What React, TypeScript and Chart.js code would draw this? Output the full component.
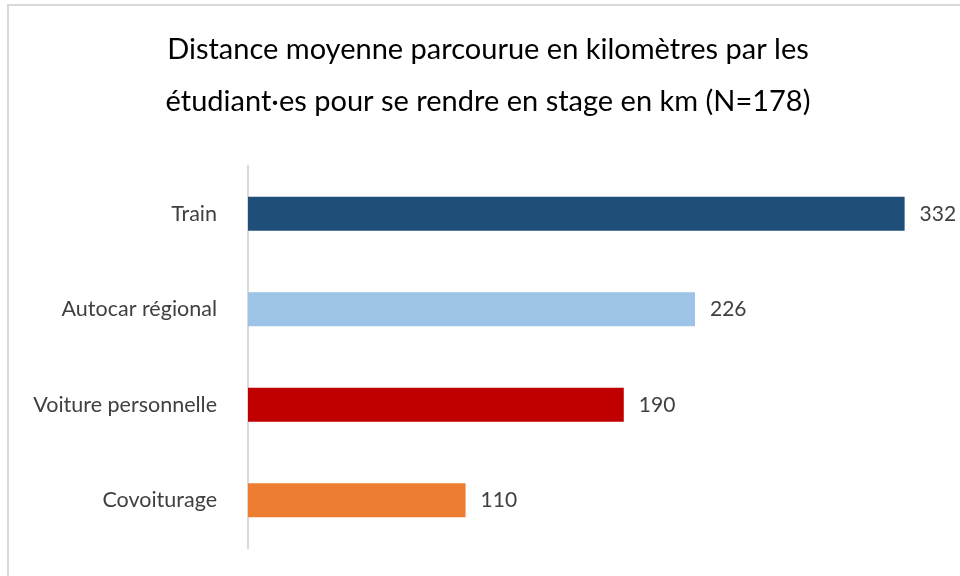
import React, { useEffect, useRef } from "react";
import { Chart, registerables } from "chart.js";

Chart.register(...registerables);

const categories = ["Train", "Autocar régional", "Voiture personnelle", "Covoiturage"];
const values = [332, 226, 190, 110];
const barColors = ["#1F4E79", "#9DC3E6", "#C00000", "#ED7D31"];
const titleLines = [
  "Distance moyenne parcourue en kilomètres par les",
  "étudiant·es pour se rendre en stage en km (N=178)",
];
const xMax = 360;

const FONT = "Lato, 'Open Sans', sans-serif";

const valueLabels = {
  id: "valueLabels",
  afterDatasetsDraw(chart: any) {
    const ctx = chart.ctx;
    const meta = chart.getDatasetMeta(0);
    ctx.save();
    ctx.font = `21px ${FONT}`;
    ctx.fillStyle = "#404040";
    ctx.textAlign = "left";
    ctx.textBaseline = "middle";
    meta.data.forEach((bar: any, i: number) => {
      ctx.fillText(String(values[i]), bar.x + 15, bar.y);
    });
    ctx.restore();
  },
};

export default function App() {
  const canvasRef = useRef<HTMLCanvasElement | null>(null);

  useEffect(() => {
    document.body.style.margin = "0";
    const canvas = canvasRef.current;
    if (!canvas) return;
    const chart = new Chart(canvas, {
      type: "bar",
      data: {
        labels: categories,
        datasets: [
          {
            data: values,
            backgroundColor: barColors,
            borderWidth: 0,
            barPercentage: 0.356,
            categoryPercentage: 1,
          },
        ],
      },
      options: {
        indexAxis: "y",
        animation: false,
        responsive: false,
        maintainAspectRatio: false,
        layout: { padding: { left: 16, right: 0, top: 0, bottom: 28 } },
        plugins: {
          legend: { display: false },
          tooltip: { enabled: false },
          title: {
            display: true,
            text: titleLines,
            color: "#000000",
            font: { family: FONT, size: 29, weight: "normal", lineHeight: 52 / 29 },
            padding: { top: 24, bottom: 38 },
          },
        },
        scales: {
          x: { display: false, min: 0, max: xMax },
          y: {
            grid: { display: false },
            border: { display: true, color: "#D9D9D9", width: 2 },
            ticks: {
              color: "#404040",
              font: { family: FONT, size: 21.5 },
              padding: 23,
            },
            afterFit(scale: any) {
              scale.width = 232;
              scale.paddingTop = 0;
              scale.paddingBottom = 0;
            },
          },
        },
      },
      plugins: [valueLabels],
    });
    return () => chart.destroy();
  }, []);

  return (
    <div style={{ position: "relative", width: 960, height: 576, overflow: "hidden", background: "#fff" }}>
      <div
        style={{
          position: "absolute",
          left: 7,
          top: 4,
          width: 1000,
          height: 620,
          border: "2px solid #D9D9D9",
          boxSizing: "border-box",
        }}
      />
      <canvas ref={canvasRef} width={960} height={576} style={{ position: "absolute", left: 0, top: 0 }} />
    </div>
  );
}
